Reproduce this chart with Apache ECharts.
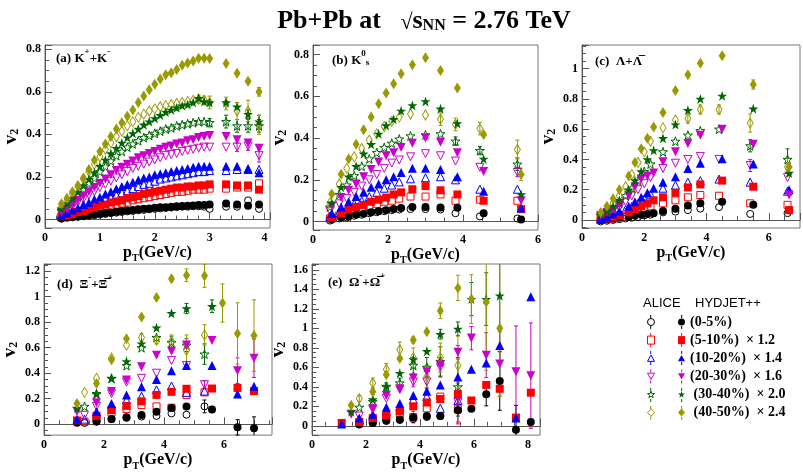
<!DOCTYPE html>
<html>
<head>
<meta charset="utf-8">
<script src="https://cdn.jsdelivr.net/npm/echarts@6/dist/echarts.min.js"></script>
<style>
  html, body { margin: 0; padding: 0; background: #fff; }
  #chart { width: 803px; height: 472px; }
</style>
</head>
<body>
<div id="chart"></div>
<script>
// ---- centrality classes (same order in every panel) ----
const centLabels = ['(0-5%)', '(5-10%)  \u00d7 1.2', '(10-20%)  \u00d7 1.4', '(20-30%)  \u00d7 1.6', ' (30-40%)  \u00d7 2.0', ' (40-50%)  \u00d7 2.4'];
const centColors = ['#000000', '#ff0000', '#0000ff', '#cc00cc', '#006600', '#999900'];

// ---- (a) K+ + K- ----
const kaonX = [0.3,0.4,0.5,0.6,0.7,0.8,0.9,1.0,1.1,1.2,1.3,1.4,1.5,1.6,1.7,1.8,1.9,2.0,2.1,2.2,2.3,2.4,2.5,2.6,2.7,2.8,2.9,3.0,3.3,3.5,3.7,3.9];
const kaonAli1 = [.005,.008,.01,.012,.015,.018,.02,.023,.026,.03,.032,.035,.038,.04,.043,.045,.048,.05,.052,.054,.056,.058,.06,.06,.062,.062,.06,.05,.06,.06,.09,.05];
const kaonHyd1 = [.005,.01,.012,.015,.018,.02,.025,.028,.03,.033,.036,.04,.042,.045,.048,.05,.052,.055,.057,.058,.06,.062,.063,.065,.066,.068,.068,.07,.075,.07,.065,.07];
const kaonAli2 = [.01,.015,.02,.025,.03,.04,.045,.05,.055,.065,.07,.075,.08,.09,.095,.10,.105,.11,.115,.12,.125,.13,.13,.135,.14,.14,.14,.145,.145,.15,.15,.17];
const kaonHyd2 = [.015,.02,.025,.035,.04,.05,.055,.065,.07,.08,.085,.09,.10,.105,.11,.12,.125,.13,.135,.14,.145,.15,.15,.155,.155,.16,.16,.165,.165,.16,.16,.14];
const kaonAli3 = [.015,.025,.035,.045,.055,.065,.075,.085,.095,.105,.115,.125,.135,.145,.155,.165,.17,.18,.19,.195,.20,.205,.21,.215,.22,.225,.225,.23,.23,.235,.235,.235];
const kaonHyd3 = [.02,.03,.045,.055,.07,.08,.095,.105,.12,.13,.145,.155,.165,.175,.185,.195,.20,.21,.215,.22,.225,.23,.235,.24,.245,.25,.25,.25,.25,.25,.24,.22];
const kaonAli4 = [.03,.045,.06,.08,.095,.115,.13,.15,.165,.18,.195,.21,.225,.24,.25,.26,.27,.28,.29,.30,.305,.31,.32,.325,.33,.335,.34,.34,.34,.34,.345,.30];
const kaonHyd4 = [.035,.05,.07,.09,.11,.13,.15,.17,.19,.21,.23,.245,.26,.275,.29,.30,.31,.32,.33,.34,.345,.355,.36,.37,.375,.385,.39,.395,.39,.375,.36,.335];
const kaonAli5 = [.04,.06,.085,.11,.14,.17,.195,.225,.25,.275,.30,.32,.34,.355,.37,.385,.395,.405,.415,.425,.43,.44,.445,.45,.455,.46,.46,.455,.46,.44,.44,.44];
const kaonHyd5 = [.05,.075,.10,.13,.16,.19,.22,.25,.28,.31,.335,.36,.385,.405,.425,.445,.46,.475,.49,.505,.515,.525,.535,.54,.55,.57,.555,.55,.55,.53,.495,.46];
const kaonAli6 = [.06,.09,.12,.155,.19,.225,.26,.295,.33,.36,.39,.415,.44,.46,.48,.495,.51,.52,.53,.535,.54,.545,.55,.555,.56,.565,.56,.55,.545,.51,.51,.445];
const kaonHyd6 = [.074,.10,.13,.16,.195,.235,.28,.32,.355,.39,.425,.455,.485,.515,.55,.58,.61,.635,.66,.68,.69,.705,.725,.735,.745,.758,.758,.757,.733,.687,.65,.60];
const kaonAli4Err = [[3.5,.02],[3.7,.02],[3.9,.03]];
const kaonAli5Err = [[3.0,.02],[3.3,.03],[3.5,.03],[3.7,.03],[3.9,.03]];
const kaonAli6Err = [[2.8,.02],[2.9,.02],[3.0,.03],[3.3,.03],[3.5,.04],[3.7,.05],[3.9,.045]];
const kaonHyd5Err = [[3.7,.02],[3.9,.03]];
const kaonHyd6Err = [[3.9,.02]];

// ---- (b) K0s ----
const k0sXA = [0.45,0.7,0.9,1.1,1.3,1.5,1.7,1.9,2.1,2.3,2.6,3.0,3.4,3.8,4.45,5.45];
const k0sXH = [0.5,0.75,0.95,1.15,1.35,1.55,1.75,1.95,2.15,2.35,2.65,3.0,3.4,3.85,4.55,5.55];
const k0sAli1 = [.005,.015,.02,.028,.033,.04,.045,.05,.055,.058,.06,.06,.058,.04,.025,.015];
const k0sHyd1 = [.01,.02,.025,.033,.038,.045,.05,.055,.06,.065,.07,.07,.068,.066,.04,.01];
const k0sAli2 = [.015,.03,.045,.055,.065,.075,.085,.095,.10,.11,.12,.12,.13,.10,.105,.10];
const k0sHyd2 = [.02,.04,.06,.07,.08,.095,.105,.115,.13,.14,.155,.17,.15,.13,.10,.06];
const k0sAli3 = [.025,.045,.065,.085,.10,.12,.14,.16,.175,.19,.205,.21,.215,.20,.155,.155];
const k0sHyd3 = [.04,.07,.095,.12,.14,.165,.18,.20,.215,.235,.255,.255,.25,.215,.145,.065];
const k0sAli4 = [.05,.085,.11,.14,.17,.20,.225,.255,.28,.295,.31,.325,.315,.29,.26,.235];
const k0sHyd4 = [.075,.115,.15,.18,.215,.25,.285,.315,.33,.355,.375,.40,.38,.33,.24,.10];
const k0sAli5 = [.07,.13,.175,.22,.265,.30,.33,.355,.375,.395,.41,.415,.42,.385,.34,.275];
const k0sHyd5 = [.09,.165,.215,.265,.325,.37,.42,.46,.49,.53,.556,.575,.54,.47,.30,.13];
const k0sAli6 = [.09,.18,.255,.31,.35,.39,.42,.455,.48,.50,.515,.51,.49,.465,.445,.345];
const k0sHyd6 = [.132,.227,.30,.37,.44,.50,.564,.615,.66,.707,.75,.784,.723,.639,.417,.226];
const k0sAli4Err = [[5.45,.02]];
const k0sAli5Err = [[3.8,.02],[4.45,.02],[5.45,.03]];
const k0sAli6Err = [[3.4,.03],[3.8,.03],[4.45,.03],[5.45,.045]];
const k0sHyd6Err = [[5.55,.03]];

// ---- (c) Lambda + anti-Lambda ----
const lamXA = [0.6,0.8,1.0,1.2,1.4,1.6,1.8,2.0,2.2,2.6,3.0,3.4,3.8,4.4,5.4,6.6];
const lamXH = [0.6,0.8,1.0,1.2,1.5,1.7,1.9,2.1,2.3,2.6,3.0,3.4,3.8,4.5,5.5,6.65];
const lamAli1 = [-.01,-.005,0,.005,.01,.015,.02,.03,.035,.05,.055,.065,.075,.085,.04,.045];
const lamHyd1 = [0,.005,.01,.015,.02,.03,.035,.04,.045,.06,.075,.095,.11,.12,.10,.065];
const lamAli2 = [0,.005,.01,.02,.03,.045,.06,.075,.09,.11,.13,.15,.165,.16,.11,.10];
const lamHyd2 = [.005,.01,.02,.03,.05,.07,.09,.11,.13,.15,.18,.215,.235,.26,.22,.065];
const lamAli3 = [.005,.015,.03,.045,.07,.09,.11,.14,.17,.21,.23,.25,.26,.27,.25,.19];
const lamHyd3 = [.01,.02,.04,.06,.09,.12,.15,.18,.21,.25,.285,.34,.375,.405,.37,.20];
const lamAli4 = [.02,.04,.06,.08,.12,.16,.20,.24,.28,.34,.375,.40,.42,.40,.36,.28];
const lamHyd4 = [.03,.05,.07,.10,.16,.22,.27,.29,.31,.385,.45,.505,.56,.60,.50,.165];
const lamAli5 = [.03,.05,.08,.11,.16,.21,.26,.32,.37,.45,.52,.56,.59,.60,.49,.40];
const lamHyd5 = [.04,.06,.09,.13,.20,.26,.32,.40,.46,.54,.63,.725,.80,.82,.735,.31];
const lamAli6 = [.04,.07,.11,.16,.22,.30,.38,.45,.52,.61,.66,.67,.73,.73,.64,.35];
const lamHyd6 = [.05,.09,.14,.20,.29,.38,.47,.54,.615,.71,.855,.96,1.035,1.085,.895,.35];
const lamAli4Err = [[5.4,.04]];
const lamAli5Err = [[5.4,.04],[6.6,.07]];
const lamAli6Err = [[3.4,.03],[3.8,.03],[4.4,.03],[5.4,.06],[6.6,.06]];
const lamHyd6Err = [[5.5,.03]];

// ---- (d) Xi- + anti-Xi+ ----
const xiXA = [1.35,1.75,2.25,2.75,3.25,3.75,4.25,4.75,5.35];
const xiXH = [1.1,1.75,2.25,2.75,3.25,3.75,4.25,4.75,5.35,5.6,5.95,6.45,7.0];
const xiAli1 = [.01,.02,.04,.05,.06,.065,.085,.075,.14];
const xiHyd1 = [.012,.022,.041,.054,.073,.098,.127,.139,null,.115,null,-.024,-.032];
const xiAli2 = [.02,.05,.09,.12,.15,.14,.13,.23,.25];
const xiHyd2 = [.03,.066,.11,.144,.18,.23,.254,.278,null,.28,null,.285,.26];
const xiAli3 = [.04,.08,.15,.19,.22,.27,.30,.25,.26];
const xiHyd3 = [.04,.10,.163,.23,.293,.35,.42,.46,null,.46,null,.237,.298];
const xiAli4 = [.07,.14,.24,.33,.36,.40,.50,.46,.31];
const xiHyd4 = [.10,.168,.256,.346,.451,.54,.573,.622,null,.656,null,.42,.517];
const xiAli5 = [.14,.24,.36,.46,.60,.68,.64,.62,.55];
const xiHyd5 = [.127,.237,.36,.493,.632,.756,.87,.907,null,.925,null,null,null];
const xiAli6 = [.25,.36,.52,.62,.68,.66,.65,.58,.70];
const xiHyd6 = [.163,.32,.505,.67,.84,.993,1.14,1.168,1.163,null,.95,.712,.695];
const xiAli1Err = [[5.35,.05]];
const xiAli4Err = [[5.35,.03]];
const xiAli5Err = [[4.25,.05],[4.75,.05],[5.35,.08]];
const xiAli6Err = [[3.25,.03],[3.75,.03],[4.25,.05],[4.75,.12],[5.35,.08]];
const xiHyd1Err = [[6.45,.06],[7.0,.09]];
const xiHyd4Err = [[6.45,.1],[7.0,.15]];
const xiHyd5Err = [[4.75,.04],[5.6,.05]];
const xiHyd6Err = [[4.25,.02],[4.75,.05],[5.35,.09],[5.95,.15],[6.45,.24],[7.0,.28]];

// ---- (e) Omega- + anti-Omega+ ----
const omeXA = [1.75,2.25,2.75,3.25,3.75,4.25,4.75,5.4];
const omeXH = [1.1,1.45,1.75,2.25,2.75,3.25,3.75,4.25,4.75,5.4,5.9,6.45,6.95,7.55,8.1];
const omeAli1 = [.02,.03,.05,.06,.07,.09,.10,.16];
const omeHyd1 = [null,null,.015,.03,.055,.065,.085,.10,.10,.16,.175,.325,.46,-.04,.04];
const omeAli2 = [.03,.06,.10,.12,.09,.18,.30,.17];
const omeHyd2 = [.03,null,.04,.08,.11,.15,.20,.24,.275,.325,.26,.42,.38,.085,.34];
const omeAli3 = [.06,.10,.15,.20,.27,.30,.18,.26];
const omeHyd3 = [.02,null,.08,.12,.19,.23,.31,.355,.42,.50,.58,.645,.825,.08,1.325];
const omeAli4 = [.10,.17,.28,.38,.45,.45,.60,.24];
const omeHyd4 = [null,.12,null,.175,.31,.37,.49,.555,.625,.755,.90,.725,.635,.555,.515];
const omeAli5 = [.19,.25,.40,.44,.62,.60,.66,.40];
const omeHyd5 = [null,.145,null,.27,.41,.54,.68,.765,.94,.995,1.30,1.30,1.335,null,null];
const omeAli6 = [.28,.44,.58,.78,.70,.50,.70,.62];
const omeHyd6 = [null,.21,null,.35,.525,.69,.88,.965,1.18,1.415,1.30,1.27,1.0,null,null];
const omeAli2Err = [[3.75,.06],[5.4,.15]];
const omeAli4Err = [[3.75,.05],[4.25,.06],[4.75,.1],[5.4,.2]];
const omeAli5Err = [[2.75,.04],[3.25,.05],[3.75,.08],[4.25,.1],[4.75,.15],[5.4,.3]];
const omeAli6Err = [[1.75,.03],[2.25,.05],[2.75,.06],[3.25,.08],[3.75,.1],[4.25,.12],[4.75,.15],[5.4,.3]];
const omeHyd1Err = [[6.45,.12],[6.95,.3],[7.55,.25]];
const omeHyd4Err = [[5.4,.07],[5.9,.12],[6.45,.23],[6.95,.33],[7.55,.47],[8.1,.54]];
const omeHyd5Err = [[4.75,.05],[5.4,.07],[5.9,.17],[6.45,.27],[6.95,.9]];
const omeHyd6Err = [[2.25,.03],[3.75,.03],[4.75,.08],[5.4,.13],[5.9,.25],[6.45,.7],[6.95,.7]];

// ---- panel set-up ----
// x / y: [min, max, label step, splitNumber, minor splits]
const panels = [
  { xA: kaonX, xH: kaonX, ali: [kaonAli1, kaonAli2, kaonAli3, kaonAli4, kaonAli5, kaonAli6],
    hyd: [kaonHyd1, kaonHyd2, kaonHyd3, kaonHyd4, kaonHyd5, kaonHyd6],
    aliErr: [[], [], [], kaonAli4Err, kaonAli5Err, kaonAli6Err], hydErr: [[], [], [], [], kaonHyd5Err, kaonHyd6Err],
    x: [0, 4.1, 1, 5, 5], y: [-0.04, 0.82, 0.2, 5, 4] },
  { xA: k0sXA, xH: k0sXH, ali: [k0sAli1, k0sAli2, k0sAli3, k0sAli4, k0sAli5, k0sAli6],
    hyd: [k0sHyd1, k0sHyd2, k0sHyd3, k0sHyd4, k0sHyd5, k0sHyd6],
    aliErr: [[], [], [], k0sAli4Err, k0sAli5Err, k0sAli6Err], hydErr: [[], [], [], [], [], k0sHyd6Err],
    x: [0, 6, 2, 3, 4], y: [-0.04, 0.845, 0.2, 5, 4] },
  { xA: lamXA, xH: lamXH, ali: [lamAli1, lamAli2, lamAli3, lamAli4, lamAli5, lamAli6],
    hyd: [lamHyd1, lamHyd2, lamHyd3, lamHyd4, lamHyd5, lamHyd6],
    aliErr: [[], [], [], lamAli4Err, lamAli5Err, lamAli6Err], hydErr: [[], [], [], [], [], lamHyd6Err],
    x: [0, 7, 2, 4, 4], y: [-0.053, 1.156, 0.2, 6, 4] },
  { xA: xiXA, xH: xiXH, ali: [xiAli1, xiAli2, xiAli3, xiAli4, xiAli5, xiAli6],
    hyd: [xiHyd1, xiHyd2, xiHyd3, xiHyd4, xiHyd5, xiHyd6],
    aliErr: [xiAli1Err, [], [], xiAli4Err, xiAli5Err, xiAli6Err], hydErr: [xiHyd1Err, [], [], xiHyd4Err, xiHyd5Err, xiHyd6Err],
    x: [0, 7.6, 2, 4, 4], y: [-0.085, 1.256, 0.2, 6, 4] },
  { xA: omeXA, xH: omeXH, ali: [omeAli1, omeAli2, omeAli3, omeAli4, omeAli5, omeAli6],
    hyd: [omeHyd1, omeHyd2, omeHyd3, omeHyd4, omeHyd5, omeHyd6],
    aliErr: [[], omeAli2Err, [], omeAli4Err, omeAli5Err, omeAli6Err], hydErr: [omeHyd1Err, [], [], omeHyd4Err, omeHyd5Err, omeHyd6Err],
    x: [0, 8.44, 2, 4, 4], y: [-0.095, 1.66, 0.2, 8, 4] }
];

const grids = [
  { left: 45, top: 45, width: 225, height: 183 },
  { left: 313, top: 45, width: 225, height: 185 },
  { left: 582, top: 45, width: 226, height: 183 },
  { left: 43, top: 264, width: 229, height: 183 },
  { left: 312, top: 264, width: 228, height: 184 }
];

const SERIF = 'Liberation Serif';
const symUp = 'path://M5,0 L10,9 L0,9 Z';
const symDown = 'path://M0,0 L10,0 L5,9 Z';
const symStar = 'path://M50,0 L61.8,35.5 L99,35.5 L69,57.5 L80.5,93 L50,71 L19.5,93 L31,57.5 L1,35.5 L38.2,35.5 Z';
const centSymbols = ['circle', 'rect', symUp, symDown, symStar, 'diamond'];
const hydSizes = [8, 8, 9, 9, 10, [7, 11]];
const aliSizes = [7, 7, 8, 8, 9, [6, 10]];
const aliNames = centLabels.map((l, i) => 'ALICE ' + i);
const hydNames = centLabels.map((l, i) => 'HYDJET ' + i);

const rich = {
  b: { fontFamily: SERIF, fontWeight: 'bold', fontSize: 13, lineHeight: 18, verticalAlign: 'bottom', color: '#000' },
  sup: { fontFamily: SERIF, fontWeight: 'bold', fontSize: 9, lineHeight: 9, verticalAlign: 'top', color: '#000' },
  sub: { fontFamily: SERIF, fontWeight: 'bold', fontSize: 9, lineHeight: 9, verticalAlign: 'bottom', color: '#000' }
};
const nameRich = {
  b: { fontFamily: SERIF, fontWeight: 'bold', fontSize: 16, lineHeight: 18, verticalAlign: 'top', color: '#000' },
  sub: { fontFamily: SERIF, fontWeight: 'bold', fontSize: 10, lineHeight: 23, verticalAlign: 'top', padding: [9, 0, 0, 0], color: '#000' }
};

function tickFmt(step) {
  return function (v) {
    const r = v / step;
    if (Math.abs(r - Math.round(r)) > 1e-6) return '';
    return String(+v.toFixed(2));
  };
}

function renderErr(params, api) {
  const x = api.value(0), y = api.value(1), e = api.value(2);
  const cs = params.coordSys;
  const top = cs.y, bot = cs.y + cs.height;
  const lo = api.coord([x, y - e]), hi = api.coord([x, y + e]);
  const col = centColors[api.value(3)];
  const y1 = Math.min(Math.max(lo[1], top), bot), y2 = Math.min(Math.max(hi[1], top), bot);
  const kids = [{ type: 'line', shape: { x1: lo[0], y1: y1, x2: hi[0], y2: y2 }, style: { stroke: col, lineWidth: 1 } }];
  if (lo[1] <= bot) kids.push({ type: 'line', shape: { x1: lo[0] - 2, y1: lo[1], x2: lo[0] + 2, y2: lo[1] }, style: { stroke: col, lineWidth: 1 } });
  if (hi[1] >= top) kids.push({ type: 'line', shape: { x1: hi[0] - 2, y1: hi[1], x2: hi[0] + 2, y2: hi[1] }, style: { stroke: col, lineWidth: 1 } });
  return { type: 'group', children: kids };
}

const xAxes = [], yAxes = [], series = [];
panels.forEach((p, k) => {
  const axisCommon = {
    axisLine: { show: true, lineStyle: { color: '#555', width: 1 } },
    axisTick: { show: true, inside: true, length: 7, lineStyle: { color: '#555' } },
    minorTick: { show: true, length: 4, lineStyle: { color: '#555' } },
    splitLine: { show: false },
    axisLabel: { fontFamily: SERIF, fontWeight: 'bold', fontSize: 12, color: '#000', margin: 4 }
  };
  xAxes.push(Object.assign({}, axisCommon, {
    type: 'value', gridIndex: k, min: p.x[0], max: p.x[1], splitNumber: p.x[3],
    minorTick: Object.assign({}, axisCommon.minorTick, { splitNumber: p.x[4] }),
    axisLabel: Object.assign({}, axisCommon.axisLabel, { formatter: tickFmt(p.x[2]) }),
    name: '{b|p}{sub|T}{b|(GeV/c)}', nameLocation: 'middle', nameGap: 6,
    nameTextStyle: { rich: nameRich, verticalAlign: 'top' }
  }));
  yAxes.push(Object.assign({}, axisCommon, {
    type: 'value', gridIndex: k, min: p.y[0], max: p.y[1], splitNumber: p.y[3],
    minorTick: Object.assign({}, axisCommon.minorTick, { splitNumber: p.y[4] }),
    axisLabel: Object.assign({}, axisCommon.axisLabel, { formatter: tickFmt(p.y[2]) }),
    name: '{v|v}{s|2}', nameLocation: 'middle', nameGap: 24, nameRotate: 90,
    nameTextStyle: { rich: {
      v: { fontFamily: SERIF, fontWeight: 'bold', fontSize: 19, lineHeight: 22, verticalAlign: 'bottom', color: '#000' },
      s: { fontFamily: SERIF, fontWeight: 'bold', fontSize: 12, lineHeight: 12, verticalAlign: 'bottom', color: '#000' }
    } }
  }));

  const errData = [];
  for (let c = 0; c < 6; c++) {
    p.aliErr[c].forEach(([ex, e]) => {
      const i = p.xA.indexOf(ex);
      if (i >= 0 && p.ali[c][i] != null) errData.push([ex, p.ali[c][i], e, c]);
    });
    p.hydErr[c].forEach(([ex, e]) => {
      const i = p.xH.indexOf(ex);
      if (i >= 0 && p.hyd[c][i] != null) errData.push([ex, p.hyd[c][i], e, c]);
    });
  }
  series.push({
    type: 'custom', xAxisIndex: k, yAxisIndex: k, renderItem: renderErr, data: errData,
    encode: { x: 0, y: 1 }, z: 1, silent: true
  });

  for (let c = 0; c < 6; c++) {
    series.push({
      type: 'scatter', name: aliNames[c], xAxisIndex: k, yAxisIndex: k, z: 2,
      symbol: centSymbols[c], symbolSize: aliSizes[c],
      itemStyle: { color: 'rgba(255,255,255,0)', borderColor: centColors[c], borderWidth: 1, opacity: 1 },
      data: p.xA.map((x, i) => [x, p.ali[c][i]]).filter(d => d[1] != null)
    });
  }
  for (let c = 0; c < 6; c++) {
    series.push({
      type: 'scatter', name: hydNames[c], xAxisIndex: k, yAxisIndex: k, z: 3,
      symbol: centSymbols[c], symbolSize: hydSizes[c],
      itemStyle: { color: centColors[c], opacity: 1 },
      data: p.xH.map((x, i) => [x, p.hyd[c][i]]).filter(d => d[1] != null)
    });
  }
});

const panelTitles = [
  { x: 56, y: 56, text: '{b|(a) K}{sup|+}{b|+K}{sup|-}' },
  { x: 332, y: 58, text: '{b|(b) K}{sup|0}{sub|s}' },
  { x: 595, y: 59, text: '{b|(c)  \u039b+\u039b\u0305}' },
  { x: 57, y: 282, text: '{b|(d)  \u039e}{sup|-}{b|+\u039e\u0305}{sup|+}' },
  { x: 328, y: 280, text: '{b|(e)  \u03a9}{sup|-}{b|+\u03a9\u0305}{sup|+}' }
];

const graphics = panelTitles.map(t => ({
  type: 'text', x: t.x, y: t.y, z: 10,
  style: { text: t.text, rich: rich, verticalAlign: 'middle' }
}));
graphics.push({
  type: 'text', x: 424, y: 19, z: 10,
  style: {
    text: '{t|Pb+Pb at   }{r|\u221a}{t|s}{n|NN}{t| = 2.76 TeV}', align: 'center', verticalAlign: 'middle',
    rich: {
      t: { fontFamily: SERIF, fontWeight: 'bold', fontSize: 26, lineHeight: 30, verticalAlign: 'bottom', color: '#000' },
      r: { fontFamily: SERIF, fontSize: 22, lineHeight: 30, verticalAlign: 'bottom', color: '#000' },
      n: { fontFamily: SERIF, fontWeight: 'bold', fontSize: 16, lineHeight: 15, verticalAlign: 'bottom', color: '#000' }
    }
  }
});
graphics.push({
  type: 'text', x: 643, y: 303, z: 10,
  style: { text: 'ALICE    HYDJET++', fontFamily: 'Liberation Sans', fontSize: 13, fill: '#000', verticalAlign: 'middle' }
});
// short error-bar strokes above and below the legend markers (legend decoration)
const legendRowY = [322, 340, 358, 376.5, 395, 413];
legendRowY.forEach((y, c) => {
  [650.7, 681.7].forEach(x => {
    graphics.push({ type: 'line', z: 9, shape: { x1: x, y1: y - 7, x2: x, y2: y - 4 }, style: { stroke: centColors[c], lineWidth: 1 } });
    graphics.push({ type: 'line', z: 9, shape: { x1: x, y1: y + 4, x2: x, y2: y + 7 }, style: { stroke: centColors[c], lineWidth: 1 } });
  });
});

const legendText = { fontFamily: SERIF, fontWeight: 'bold', fontSize: 14, lineHeight: 14, color: '#000' };
const chart = echarts.init(document.getElementById('chart'), null, { renderer: 'canvas' });
chart.setOption({
  animation: false,
  backgroundColor: '#fff',
  grid: grids.map(g => Object.assign({ show: true, borderColor: '#777', borderWidth: 1, backgroundColor: 'transparent' }, g)),
  xAxis: xAxes,
  yAxis: yAxes,
  legend: [
    { data: aliNames.map((n, c) => ({ name: n, itemStyle: { color: '#fff', borderColor: centColors[c], borderWidth: 1 } })),
      orient: 'vertical', left: 642, top: 310, padding: 5, itemWidth: 7, itemHeight: 8, itemGap: 4.1,
      formatter: () => ' ', selectedMode: false, textStyle: legendText },
    { data: hydNames, orient: 'vertical', left: 673, top: 310, padding: 5, itemWidth: 7, itemHeight: 8, itemGap: 4.1,
      selectedMode: false, formatter: name => centLabels[hydNames.indexOf(name)],
      textStyle: legendText }
  ],
  graphic: graphics,
  series: series
});
</script>
</body>
</html>
